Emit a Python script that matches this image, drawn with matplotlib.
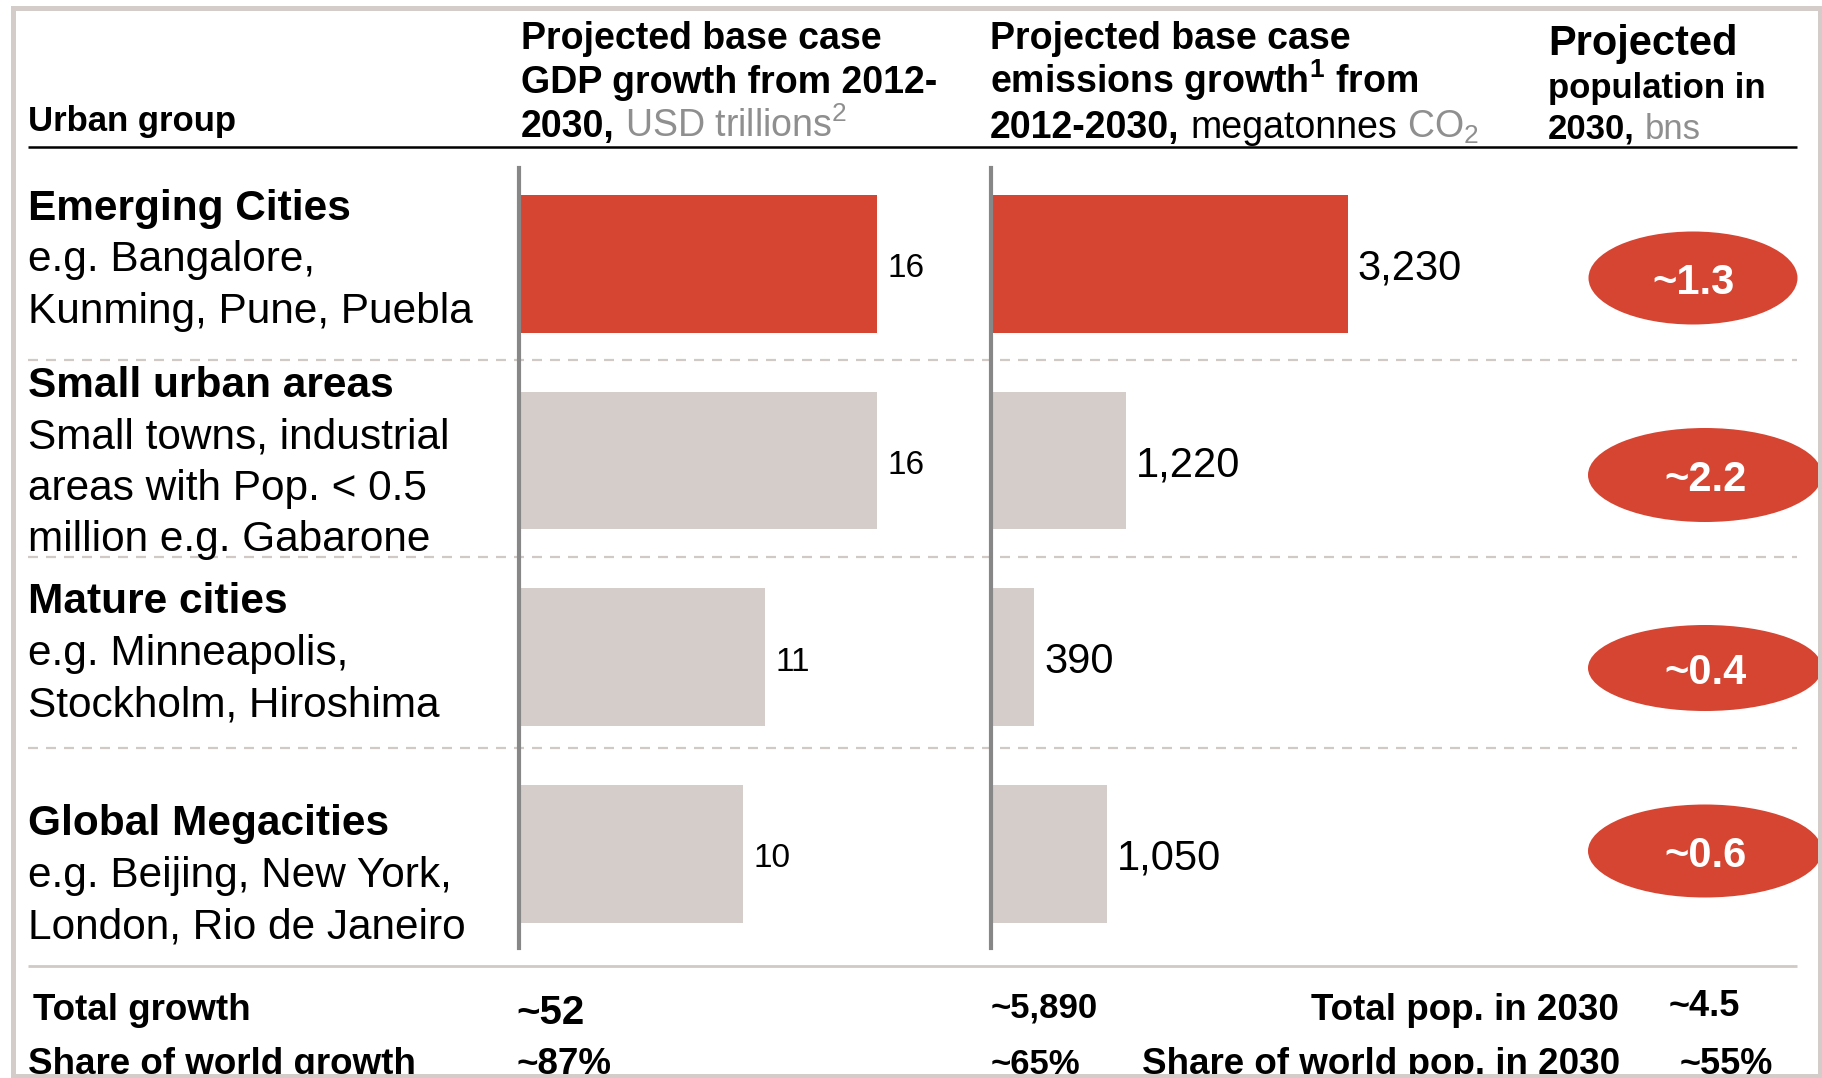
import matplotlib
matplotlib.use('Agg')
import numpy as np
import matplotlib.pyplot as plt
from matplotlib.patches import Ellipse, Rectangle

plt.rcParams['font.family'] = ['Liberation Sans', 'DejaVu Sans']

# ---- data ----
groups = ['Emerging Cities', 'Small urban areas', 'Mature cities', 'Global Megacities']
examples = [['e.g. Bangalore,', 'Kunming, Pune, Puebla'],
            ['Small towns, industrial', 'areas with Pop. < 0.5', 'million e.g. Gabarone'],
            ['e.g. Minneapolis,', 'Stockholm, Hiroshima'],
            ['e.g. Beijing, New York,', 'London, Rio de Janeiro']]
gdp_growth = [16, 16, 11, 10]
gdp_labels = ['16', '16', '11', '10']
emissions_growth = [3230, 1220, 390, 1050]
emissions_labels = ['3,230', '1,220', '390', '1,050']
population = ['~1.3', '~2.2', '~0.4', '~0.6']
highlight = [True, False, False, False]

total_gdp, share_gdp = '~52', '~87%'
total_emis, share_emis = '~5,890', '~65%'
total_pop, share_pop = '~4.5', '~55%'

RED = '#d64532'
GREY_BAR = '#d5cdca'
GREY_TXT = '#8f8f8f'
LINE_GREY = '#d0c9c6'
SPINE = '#878787'

W, H = 1822, 1078
fig = plt.figure(figsize=(W / 100, H / 100), dpi=100)
fig.patch.set_facecolor('white')

# overlay in pixel coordinates
ax = fig.add_axes([0, 0, 1, 1])
ax.set_xlim(0, W)
ax.set_ylim(H, 0)
ax.axis('off')

renderer = fig.canvas.get_renderer()


def put_line(x, y, parts):
    # parts: (text, fontsize, weight, color, gap before in em)
    for txt, fs, wt, col, gap in parts:
        x += gap * fs / 0.72
        t = ax.text(x, y, txt, fontsize=fs, fontweight=wt, color=col,
                    va='baseline', ha='left')
        x = t.get_window_extent(renderer=renderer).x1


# header
ax.text(28, 131, 'Urban group', fontsize=25, fontweight='bold', va='baseline')
HS = 27
put_line(521, 49, [('Projected base case', HS, 'bold', 'black', 0)])
put_line(521, 93, [('GDP growth from 2012-', HS, 'bold', 'black', 0)])
put_line(521, 137, [('2030,', HS, 'bold', 'black', 0),
                    (r'USD trillions$\mathregular{^2}$', HS, 'normal', GREY_TXT, 0.28)])
put_line(990, 49, [('Projected base case', HS, 'bold', 'black', 0)])
put_line(990, 93, [(r'emissions growth$\mathregular{^1}$ from', HS, 'bold', 'black', 0)])
put_line(990, 138, [('2012-2030,', HS, 'bold', 'black', 0),
                    ('megatonnes', HS, 'normal', 'black', 0.28),
                    (r'CO$\mathregular{_2}$', HS, 'normal', GREY_TXT, 0.28)])
put_line(1548, 55, [('Projected', 30, 'bold', 'black', 0)])
put_line(1548, 98, [('population in', 25, 'bold', 'black', 0)])
put_line(1548, 139, [('2030,', 25, 'bold', 'black', 0),
                     ('bns', 25, 'normal', GREY_TXT, 0.28)])
ax.plot([28, 1797], [147, 147], color='black', lw=1.8, solid_capstyle='butt')

# row labels
title_y = [209, 386, 602, 824]
step = 51.5
for g, ex, ty in zip(groups, examples, title_y):
    ax.text(28, ty, g, fontsize=30.5, fontweight='bold', va='center')
    for k, line in enumerate(ex):
        ax.text(28, ty + step * (k + 1), line, fontsize=30.5, va='center')

# dividers
for yy in [360, 557, 748]:
    ax.plot([28, 1797], [yy, yy], color=LINE_GREY, lw=1.6, dashes=[4.5, 3.6])
ax.plot([28, 1797], [966, 966], color=LINE_GREY, lw=2, solid_capstyle='butt')

# population ellipses
ell_x = [1693, 1705, 1705, 1705]
ell_y = [278, 475, 668, 851]
ell_w = [209, 234, 234, 234]
ell_h = [93, 94, 86, 93]
for p, cx, cy, ew, eh in zip(population, ell_x, ell_y, ell_w, ell_h):
    ax.add_patch(Ellipse((cx, cy), ew, eh, facecolor=RED, edgecolor='none'))
    ax.text(cx, cy + 5, p, fontsize=30, fontweight='bold', color='white',
            ha='center', va='center')

# totals
ax.text(33, 1010, 'Total growth', fontsize=26.5, fontweight='bold', va='center')
ax.text(28, 1065, 'Share of world growth', fontsize=26.5, fontweight='bold', va='center')
ax.text(516, 1013, total_gdp, fontsize=29, fontweight='bold', va='center')
ax.text(516, 1065, share_gdp, fontsize=26.5, fontweight='bold', va='center')
ax.text(991, 1008, total_emis, fontsize=25, fontweight='bold', va='center')
ax.text(991, 1065, share_emis, fontsize=25, fontweight='bold', va='center')
ax.text(1619, 1010, 'Total pop. in 2030', fontsize=26.5, fontweight='bold',
        va='center', ha='right')
ax.text(1142, 1065, 'Share of world pop. in 2030', fontsize=26.5, fontweight='bold',
        va='center')
ax.text(1669, 1006, total_pop, fontsize=26, fontweight='bold', va='center')
ax.text(1680, 1065, share_pop, fontsize=26, fontweight='bold', va='center')


# bar panels
def px_axes(x0, y0, x1, y1):
    return fig.add_axes([x0 / W, 1 - y1 / H, (x1 - x0) / W, (y1 - y0) / H])


colors = [RED if h else GREY_BAR for h in highlight]
rows = np.arange(len(groups))
panels = [(519, 960, 22.4, gdp_growth, gdp_labels, 24),
          (991, 1540, 0.1105, emissions_growth, emissions_labels, 30)]
for x0, x1, pxu, vals, labels, fs in panels:
    b = px_axes(x0, 168, x1, 948)
    b.barh(rows, vals, height=0.70, color=colors)
    b.set_xlim(0, (x1 - x0) / pxu)
    b.set_ylim(3.478, -0.488)
    b.patch.set_alpha(0)
    for s in ['top', 'right', 'bottom']:
        b.spines[s].set_visible(False)
    b.spines['left'].set_color(SPINE)
    b.spines['left'].set_linewidth(3)
    b.set_xticks([])
    b.set_yticks([])
    for i, (v, lbl) in enumerate(zip(vals, labels)):
        b.annotate(lbl, (v, i), xytext=(10, -5), textcoords='offset pixels',
                   va='center', ha='left', fontsize=fs)

# outer frame
top = fig.add_axes([0, 0, 1, 1])
top.set_xlim(0, W)
top.set_ylim(H, 0)
top.axis('off')
top.patch.set_alpha(0)
top.add_patch(Rectangle((12.5, 7.5), 1807.5, 1068, fill=False,
                        edgecolor='#d3ccc9', lw=3.6))

fig.savefig('out.png', dpi=100)
